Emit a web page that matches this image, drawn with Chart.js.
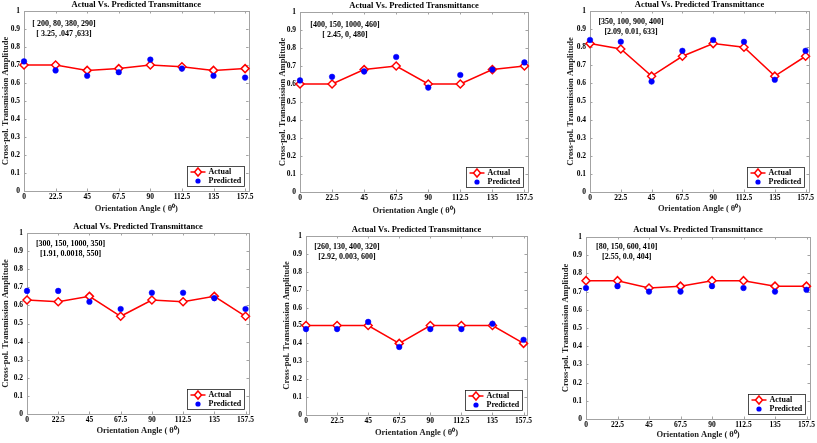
<!DOCTYPE html>
<html>
<head>
<meta charset="utf-8">
<script src="https://cdn.jsdelivr.net/npm/chart.js@4.4.1/dist/chart.umd.min.js"></script>
<style>
html, body { margin: 0; padding: 0; background: #fff; }
#wrap { position: relative; width: 817px; height: 443px; overflow: hidden; }
#wrap canvas { position: absolute; }
</style>
</head>
<body>
<div id="wrap"></div>
<script>
// shared axes
const angles = [0, 22.5, 45, 67.5, 90, 112.5, 135, 157.5];
const yTicks = [0, 0.1, 0.2, 0.3, 0.4, 0.5, 0.6, 0.7, 0.8, 0.9, 1];

// panel values
const actual1 = [0.70, 0.70, 0.67, 0.68, 0.70, 0.69, 0.67, 0.68];
const predicted1 = [0.72, 0.67, 0.64, 0.66, 0.73, 0.68, 0.64, 0.63];
const note1 = ['[ 200, 80, 380, 290]', '[ 3.25, .047 ,633]'];

const actual2 = [0.60, 0.60, 0.68, 0.70, 0.60, 0.60, 0.68, 0.70];
const predicted2 = [0.62, 0.64, 0.67, 0.75, 0.58, 0.65, 0.68, 0.72];
const note2 = ['[400, 150, 1000, 460]', '[ 2.45, 0, 480]'];

const actual3 = [0.82, 0.79, 0.64, 0.75, 0.82, 0.80, 0.64, 0.75];
const predicted3 = [0.84, 0.83, 0.61, 0.78, 0.84, 0.83, 0.62, 0.78];
const note3 = ['[350, 100, 900, 400]', '[2.09, 0.01, 633]'];

const actual4 = [0.63, 0.62, 0.65, 0.54, 0.63, 0.62, 0.65, 0.54];
const predicted4 = [0.68, 0.68, 0.62, 0.58, 0.67, 0.67, 0.64, 0.58];
const note4 = ['[300, 150, 1000, 350]', '[1.91, 0.0018, 550]'];

const actual5 = [0.50, 0.50, 0.50, 0.40, 0.50, 0.50, 0.50, 0.40];
const predicted5 = [0.48, 0.48, 0.52, 0.38, 0.48, 0.48, 0.51, 0.42];
const note5 = ['[260, 130, 400, 320]', '[2.92, 0.003, 600]'];

const actual6 = [0.76, 0.76, 0.72, 0.73, 0.76, 0.76, 0.73, 0.73];
const predicted6 = [0.72, 0.73, 0.70, 0.70, 0.73, 0.72, 0.70, 0.71];
const note6 = ['[80, 150, 600, 410]', '[2.55, 0.0, 404]'];

const SERIF = "'Liberation Serif', 'Times New Roman', serif";
const AXIS_GREY = '#a3a3a3';

// layout of each panel in page pixels: cell box, plot box, text centres
const panels = [
  { cell: [0, 0, 272, 222], plot: [24, 11, 248.6, 191], titleY: 5, yTitleX: 6, xTitleY: 209, noteX: 28.5, noteY: 0.93,
    actual: actual1, predicted: predicted1, note: note1 },
  { cell: [272, 0, 272, 222], plot: [300, 12, 528, 192], titleY: 5.5, yTitleX: 283, xTitleY: 211, noteX: 31.5, noteY: 0.93,
    actual: actual2, predicted: predicted2, note: note2 },
  { cell: [544, 0, 273, 222], plot: [590, 11, 809, 192], titleY: 5, yTitleX: 570.5, xTitleY: 209, noteX: 30, noteY: 0.94,
    actual: actual3, predicted: predicted3, note: note3 },
  { cell: [0, 222, 272, 221], plot: [27, 233, 249, 414], titleY: 226.7, yTitleX: 6, xTitleY: 431, noteX: 31.4, noteY: 0.94,
    actual: actual4, predicted: predicted4, note: note4 },
  { cell: [272, 222, 272, 221], plot: [306, 236, 527, 415], titleY: 229.3, yTitleX: 286.5, xTitleY: 432.5, noteX: 29.7, noteY: 0.94,
    actual: actual5, predicted: predicted5, note: note5 },
  { cell: [544, 222, 273, 221], plot: [586, 237, 810, 419], titleY: 229.3, yTitleX: 566, xTitleY: 435, noteX: 29.1, noteY: 0.945,
    actual: actual6, predicted: predicted6, note: note6 }
];

// box + inward tick marks like the original figure
const framePlugin = {
  id: 'frame',
  beforeDatasetsDraw(chart) {
    const { ctx, chartArea: a, scales } = chart;
    ctx.save();
    ctx.strokeStyle = AXIS_GREY;
    ctx.lineWidth = 1;
    ctx.strokeRect(Math.round(a.left) + 0.5, Math.round(a.top) + 0.5,
      Math.round(a.right - a.left), Math.round(a.bottom - a.top));
    ctx.beginPath();
    angles.forEach(v => {
      const px = Math.round(scales.x.getPixelForValue(v)) + 0.5;
      ctx.moveTo(px, a.bottom); ctx.lineTo(px, a.bottom - 2.5);
      ctx.moveTo(px, a.top); ctx.lineTo(px, a.top + 2.5);
    });
    yTicks.forEach(v => {
      const py = Math.round(scales.y.getPixelForValue(v)) + 0.5;
      ctx.moveTo(a.left, py); ctx.lineTo(a.left + 2.5, py);
      ctx.moveTo(a.right, py); ctx.lineTo(a.right - 2.5, py);
    });
    ctx.stroke();
    ctx.restore();
  },
  afterDatasetsDraw(chart) {
    const { ctx, chartArea: a, scales } = chart;
    const p = chart.options.plugins.frame;
    ctx.save();
    ctx.fillStyle = '#000';
    ctx.font = 'bold 8px ' + SERIF;
    ctx.textAlign = 'center';
    ctx.textBaseline = 'middle';
    const nx = scales.x.getPixelForValue(p.noteX);
    const ny = scales.y.getPixelForValue(p.noteY);
    p.note.forEach((line, i) => ctx.fillText(line, nx, ny + i * 10));

    // legend box, bottom right inside the axes
    const w = 57, h = 20;
    const bx = Math.round(a.right - 5 - w) + 0.5, by = Math.round(a.bottom - 5 - h) + 0.5;
    ctx.fillStyle = '#fff';
    ctx.fillRect(bx, by, w, h);
    ctx.strokeStyle = '#222';
    ctx.lineWidth = 0.8;
    ctx.strokeRect(bx, by, w, h);
    const r1 = by + 5.5, r2 = by + 14.5;
    ctx.strokeStyle = '#ff0000';
    ctx.lineWidth = 1.5;
    ctx.beginPath(); ctx.moveTo(bx + 3, r1); ctx.lineTo(bx + 18, r1); ctx.stroke();
    ctx.beginPath();
    ctx.moveTo(bx + 10.5, r1 - 4); ctx.lineTo(bx + 14, r1); ctx.lineTo(bx + 10.5, r1 + 4); ctx.lineTo(bx + 7, r1);
    ctx.closePath();
    ctx.fillStyle = '#fff'; ctx.fill(); ctx.stroke();
    ctx.fillStyle = '#0000ff';
    ctx.beginPath(); ctx.arc(bx + 10.5, r2, 2.6, 0, Math.PI * 2); ctx.fill();
    ctx.fillStyle = '#000';
    ctx.textAlign = 'left';
    ctx.fillText('Actual', bx + 21, r1);
    ctx.fillText('Predicted', bx + 21, r2);
    ctx.restore();
  }
};

const wrap = document.getElementById('wrap');

panels.forEach(p => {
  const [cx, cy, cw, ch] = p.cell;
  const [pl, pt, pr, pb] = p.plot;
  const cv = document.createElement('canvas');
  cv.width = cw; cv.height = ch;
  cv.style.left = cx + 'px'; cv.style.top = cy + 'px';
  wrap.appendChild(cv);

  const titleSize = 8.5;
  const tPadTop = Math.max(0, p.titleY - cy - titleSize / 2);
  const tPadBottom = Math.max(0, (pt - cy) - titleSize - tPadTop);
  const axisH = cy + ch - pb;
  const axisW = pl - cx;
  const tickFont = { family: SERIF, weight: 'bold', size: 7.5, lineHeight: 1.2 };
  const labelFont = { family: SERIF, weight: 'bold', size: 8.5, lineHeight: 1 };

  new Chart(cv, {
    type: 'line',
    data: {
      datasets: [
        {
          label: 'Predicted',
          data: angles.map((a, i) => ({ x: a, y: p.predicted[i] })),
          showLine: false,
          pointStyle: 'circle',
          pointRadius: 2.8,
          pointBackgroundColor: '#0000ff',
          pointBorderColor: '#0000ff',
          pointBorderWidth: 0.5,
          clip: false,
          order: 0
        },
        {
          label: 'Actual',
          data: angles.map((a, i) => ({ x: a, y: p.actual[i] })),
          borderColor: '#ff0000',
          borderWidth: 1.5,
          tension: 0,
          pointStyle: 'rectRot',
          pointRadius: 4,
          pointBackgroundColor: '#ffffff',
          pointBorderColor: '#ff0000',
          pointBorderWidth: 1.5,
          clip: false,
          order: 1
        }
      ]
    },
    options: {
      responsive: false,
      animation: false,
      devicePixelRatio: 1,
      layout: { padding: { left: 0, top: 0, bottom: 0, right: cx + cw - pr } },
      plugins: {
        legend: { display: false },
        tooltip: { enabled: false },
        title: {
          display: true,
          text: 'Actual Vs. Predicted Transmittance',
          fullSize: false,
          color: '#000',
          font: { family: SERIF, weight: 'bold', size: titleSize, lineHeight: 1 },
          padding: { top: tPadTop, bottom: tPadBottom }
        },
        frame: { note: p.note, noteX: p.noteX, noteY: p.noteY }
      },
      scales: {
        x: {
          type: 'linear',
          min: 0,
          max: 160,
          afterBuildTicks: s => { s.ticks = angles.map(v => ({ value: v })); },
          afterFit: s => { s.height = axisH; },
          ticks: { font: tickFont, color: '#000', padding: 1.5, maxRotation: 0, autoSkip: false, callback: v => String(v) },
          grid: { display: false, drawTicks: false },
          border: { display: false },
          title: {
            display: true,
            text: 'Orientation Angle ( θ⁰)',
            color: '#222',
            font: labelFont,
            padding: { top: 0, bottom: Math.max(0, cy + ch - p.xTitleY - 4.25) }
          }
        },
        y: {
          min: 0,
          max: 1,
          afterBuildTicks: s => { s.ticks = yTicks.map(v => ({ value: v })); },
          afterFit: s => { s.width = axisW; },
          ticks: { font: tickFont, color: '#000', padding: 4, callback: v => String(v) },
          grid: { display: false, drawTicks: false },
          border: { display: false },
          title: {
            display: true,
            text: 'Cross-pol. Transmission Amplitude',
            color: '#222',
            font: labelFont,
            padding: { top: Math.max(0, p.yTitleX - cx - 4.25), bottom: 0 }
          }
        }
      }
    },
    plugins: [framePlugin]
  });
});
</script>
</body>
</html>
